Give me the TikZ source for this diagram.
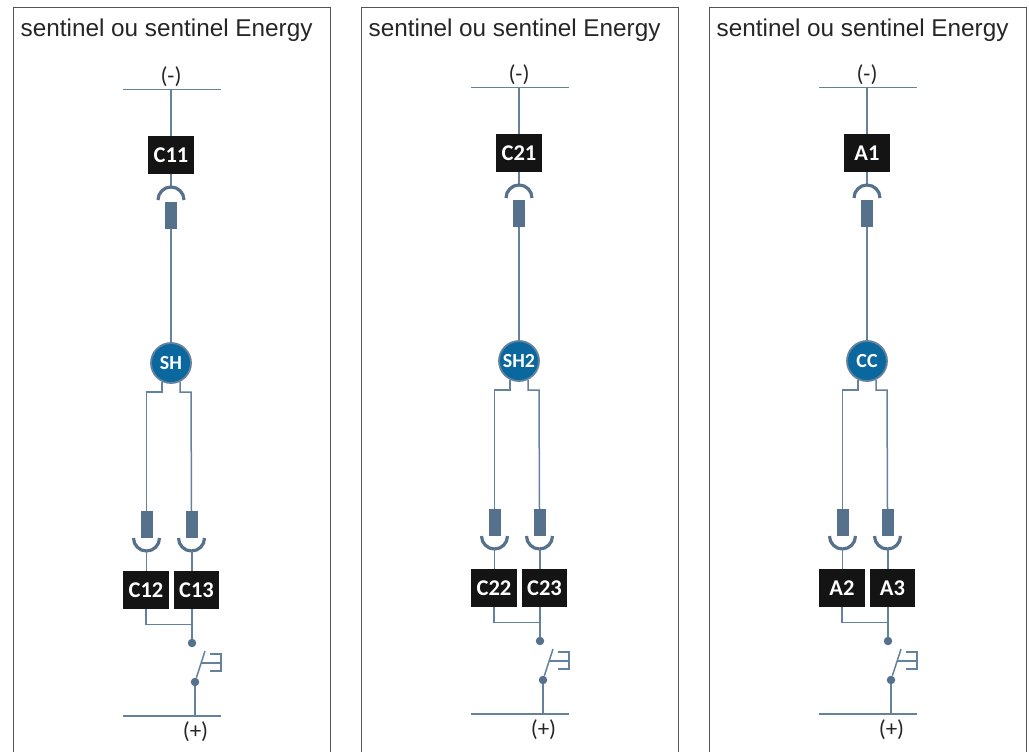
\documentclass[tikz,border=0pt]{standalone}
\usepackage{fontspec}
\setmainfont{Liberation Sans}
\newfontfamily\lblfont{Carlito}
\definecolor{wire}{HTML}{64829D}
\definecolor{plugc}{HTML}{56718C}
\definecolor{disc}{HTML}{0A689F}
\definecolor{blk}{HTML}{141414}
\definecolor{framec}{HTML}{555555}
\tikzset{
  wireline/.style={draw=wire,line width=1.5pt},
  hookline/.style={draw=plugc,line width=3.2pt},
  tagbox/.style={fill=blk,text=white,inner sep=0pt,minimum height=38pt,font=\lblfont\bfseries\fontsize{22.5}{22}\selectfont},
  plugbox/.style={fill=plugc,inner sep=0pt,minimum width=12pt,minimum height=27pt},
  discnode/.style={circle,fill=disc,draw=wire,line width=1.8pt,minimum size=40pt,inner sep=0pt,text=white,font=\lblfont\bfseries\fontsize{20}{20}\selectfont},
  dotnode/.style={circle,fill=plugc,inner sep=0pt,minimum size=8.5pt},
  plain/.style={text=black!85,inner sep=0pt,font=\lblfont\fontsize{23}{23}\selectfont},
  titletext/.style={text=black!85,inner sep=0pt,anchor=base west,font=\fontsize{24.3}{24}\selectfont}
}
\begin{document}
\begin{tikzpicture}[x=1pt,y=-1pt]
\useasboundingbox (0,0) rectangle (1029,752);
\foreach \q/\fx in {a/13,b/361,c/709}{
  \draw[framec,line width=1pt] (\fx,752) -- (\fx,8) -- (\fx+317,8) -- (\fx+317,752);
  \node[titletext] (\q title) at (\fx+7.5,37) {sentinel ou sentinel Energy};
}
\foreach \p/\dx/\dy/\ta/\tb/\tc/\sym in {a/0/0/C11/C12/C13/SH,b/348/-2/C21/C22/C23/SH2,c/696/-2/A1/A2/A3/CC}{
\begin{scope}[shift={(\dx,\dy)}]
  % top bus
  \coordinate (\p bl) at (123,89.5);
  \coordinate (\p br) at (221,89.5);
  \coordinate (\p bm) at (171,89.5);
  \node[plain] (\p minus) at (171,76.5) {(-)};
  \draw[wireline] (\p bl) -- (\p br);
  \node[tagbox,minimum width=46pt] (\p top) at (171,155) {\ta};
  \draw[wireline] (\p bm) -- (\p top.north);
  % top contact
  \coordinate (\p arct) at (171,186);
  \draw[wireline] (\p top.south) -- (\p arct);
  \draw[hookline] (158,200) arc[start angle=180,end angle=360,radius=13];
  \node[plugbox] (\p pt) at (171,215.5) {};
  % coil
  \node[discnode] (\p sh) at (171,363) {\sym};
  \draw[wireline] (\p pt.south) -- (\p sh.north);
  % lower plugs
  \coordinate (\p kl) at (146.5,392);
  \coordinate (\p kr) at (191,392);
  \node[plugbox] (\p pl) at (146.5,524.5) {};
  \node[plugbox] (\p pr) at (191.5,524.5) {};
  \draw[wireline] (\p sh.-116) |- (\p kl) -- (\p pl.north);
  \draw[wireline] (\p sh.-64) |- (\p kr) -- (\p pr.north);
  \draw[hookline] (133.5,538) arc[start angle=180,end angle=0,radius=13];
  \draw[hookline] (178.5,538) arc[start angle=180,end angle=0,radius=13];
  \coordinate (\p al) at (146.5,551);
  \coordinate (\p ar) at (192,551);
  \node[tagbox,minimum width=46pt] (\p cl) at (146,590) {\tb};
  \node[tagbox,minimum width=45pt] (\p cr) at (196.5,590) {\tc};
  \draw[wireline] (\p al) -- (\p al |- \p cl.north);
  \draw[wireline] (\p ar) -- (\p ar |- \p cr.north);
  % switch
  \coordinate (\p j) at (192,624.5);
  \node[dotnode] (\p d1) at (192,643) {};
  \node[dotnode] (\p d2) at (195,682) {};
  \draw[wireline] (\p cl.south) |- (\p j);
  \draw[wireline] (\p j |- \p cr.south) -- (\p d1);
  \coordinate (\p bt) at (205,651);
  \draw[wireline] (\p d2) -- (\p bt);
  \coordinate (\p h1) at (210,654);
  \coordinate (\p h2) at (221,654);
  \coordinate (\p h3) at (221,671);
  \coordinate (\p h4) at (210,671);
  \coordinate (\p h5) at (201,663);
  \coordinate (\p h6) at (221,663);
  \draw[wireline] (\p h1) -- (\p h2) -- (\p h3) -- (\p h4);
  \draw[wireline] (\p h5) -- (\p h6);
  % bottom bus
  \coordinate (\p el) at (123,716);
  \coordinate (\p er) at (221,716);
  \coordinate (\p em) at (195,716);
  \draw[wireline] (\p el) -- (\p er);
  \draw[wireline] (\p d2) -- (\p em);
  \node[plain] (\p plus) at (195.5,731.5) {(+)};
\end{scope}
}
\end{tikzpicture}
\end{document}
